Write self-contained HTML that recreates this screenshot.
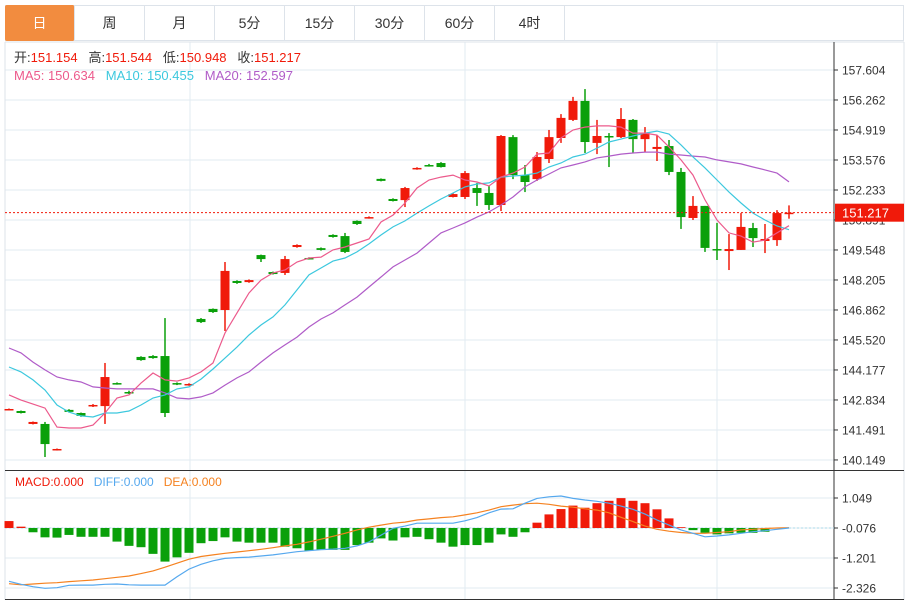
<!DOCTYPE html>
<html><head><meta charset="utf-8"><style>
body{margin:0;background:#fff;font-family:"Liberation Sans","Noto Sans CJK SC",sans-serif;}
#wrap{position:relative;width:908px;height:601px;overflow:hidden;}
.tab{position:absolute;top:5px;height:36px;width:70px;border-right:1px solid #dde3ea;font-size:14px;color:#333;text-align:center;line-height:36px;box-sizing:border-box;}
</style></head><body>
<div id="wrap">
<div style="position:absolute;left:5px;top:5px;width:899px;height:36px;border:1px solid #dde3ea;border-bottom:1px solid #dde3ea;box-sizing:border-box;"></div>
<div class="tab" style="left:5px;background:#f28c3f;color:#fff;border-radius:2px;">日</div>
<div class="tab" style="left:75px;">周</div>
<div class="tab" style="left:145px;">月</div>
<div class="tab" style="left:215px;">5分</div>
<div class="tab" style="left:285px;">15分</div>
<div class="tab" style="left:355px;">30分</div>
<div class="tab" style="left:425px;">60分</div>
<div class="tab" style="left:495px;">4时</div>
<svg id="svg" width="908" height="601" style="position:absolute;left:0;top:0"></svg>
</div>
<script>
const opens=[142.39,142.34,141.76,141.76,140.59,142.39,142.25,142.56,142.56,143.59,143.19,144.76,144.80,144.80,143.59,143.50,146.46,146.91,146.86,148.16,148.11,149.32,148.56,148.52,149.68,149.19,149.63,150.22,150.17,150.85,150.98,152.73,151.83,151.78,153.17,153.35,153.44,151.92,151.92,152.32,152.10,151.56,154.60,152.90,152.72,153.62,154.56,155.37,156.22,154.34,154.65,154.60,155.37,154.51,154.07,154.20,153.04,150.98,151.52,149.59,149.50,149.55,150.53,149.95,149.99,151.154];
const highs=[142.45,142.36,141.87,141.85,140.66,142.42,142.27,142.65,144.49,143.62,143.25,144.79,144.84,146.50,143.62,143.58,146.50,146.93,149.01,148.19,148.23,149.34,148.58,149.28,149.80,149.22,149.66,150.25,150.31,150.87,151.05,152.75,151.86,152.37,153.25,153.40,153.48,152.08,153.08,152.55,152.41,154.69,154.69,153.35,153.93,154.92,155.63,156.40,156.75,155.37,154.78,155.90,155.41,155.05,154.69,154.47,153.22,151.96,151.52,150.76,150.26,151.20,150.76,150.71,151.33,151.544];
const lows=[142.37,142.23,141.74,140.28,140.57,142.27,142.08,142.52,141.76,143.52,143.10,144.59,144.68,142.07,143.50,143.47,146.28,146.73,145.92,148.03,148.08,149.01,148.45,148.43,149.65,149.12,149.52,150.10,149.41,150.67,150.95,152.62,151.72,151.47,153.14,153.28,153.24,151.90,151.83,151.52,151.34,151.29,152.72,152.14,152.64,153.44,154.34,155.32,153.89,153.84,153.26,154.56,153.89,153.93,153.53,152.90,150.49,150.89,149.46,149.10,148.65,149.55,149.68,149.41,149.73,150.948];
const closes=[142.43,142.25,141.85,140.86,140.64,142.30,142.12,142.61,143.86,143.55,143.15,144.62,144.71,142.25,143.55,143.55,146.32,146.77,148.61,148.07,148.20,149.14,148.47,149.14,149.77,149.14,149.55,150.13,149.46,150.71,151.02,152.64,151.74,152.32,153.22,153.31,153.26,152.05,152.99,152.10,151.56,154.65,152.90,152.59,153.71,154.60,155.46,156.22,154.38,154.65,154.60,155.41,154.51,154.78,154.16,153.04,151.02,151.52,149.64,149.55,149.59,150.58,150.08,150.04,151.20,151.217];
const ma5=[143.06,142.83,142.65,142.47,141.62,141.58,141.58,141.71,142.25,142.92,143.06,143.59,144.04,143.73,143.68,143.82,144.09,144.49,145.83,146.73,147.62,148.20,148.52,148.65,149.01,149.19,149.23,149.55,149.68,149.86,150.04,150.80,151.11,151.65,152.32,152.68,152.81,152.90,152.68,152.59,152.41,152.81,152.99,153.26,153.84,153.89,154.56,154.92,155.05,155.10,155.10,155.05,154.78,154.78,154.69,154.16,153.58,152.90,151.79,150.89,150.31,150.17,149.90,149.99,150.31,150.634];
const ma10=[144.31,144.09,143.73,143.28,142.61,142.29,142.12,142.07,142.25,142.25,142.34,142.61,142.92,143.06,143.33,143.42,143.77,144.22,144.71,145.20,145.74,146.19,146.55,147.09,147.76,148.43,148.74,149.05,149.19,149.46,149.82,150.22,150.58,150.85,151.20,151.52,151.83,152.10,152.37,152.50,152.55,152.81,152.86,152.90,152.99,153.26,153.44,153.71,153.84,154.11,154.38,154.51,154.65,154.78,154.87,154.74,154.25,153.71,153.22,152.68,152.14,151.65,151.20,150.89,150.62,150.455];
const ma20=[145.16,144.94,144.53,144.18,143.86,143.73,143.64,143.42,143.37,143.33,143.33,143.33,143.33,143.15,142.92,142.88,142.97,143.15,143.50,143.82,144.09,144.53,144.94,145.30,145.65,146.10,146.46,146.73,147.09,147.44,147.89,148.34,148.79,149.10,149.41,149.86,150.31,150.53,150.76,151.02,151.25,151.56,151.92,152.37,152.68,152.95,153.22,153.35,153.49,153.67,153.75,153.84,153.89,153.93,153.93,153.84,153.80,153.75,153.71,153.58,153.49,153.40,153.26,153.13,152.99,152.597];
const macdHist=[0.26,0.05,-0.16,-0.35,-0.36,-0.26,-0.33,-0.33,-0.33,-0.51,-0.67,-0.72,-0.97,-1.26,-1.10,-0.93,-0.57,-0.49,-0.35,-0.51,-0.55,-0.55,-0.55,-0.70,-0.76,-0.85,-0.82,-0.82,-0.82,-0.64,-0.55,-0.39,-0.47,-0.35,-0.33,-0.42,-0.55,-0.70,-0.64,-0.64,-0.55,-0.24,-0.33,-0.16,0.20,0.51,0.71,0.84,0.76,0.93,1.02,1.12,1.02,0.93,0.70,0.36,0.03,-0.08,-0.18,-0.24,-0.20,-0.18,-0.18,-0.14,-0.01,0];
const diff=[-2.00,-2.11,-2.20,-2.26,-2.24,-2.15,-2.14,-2.14,-2.11,-2.10,-2.13,-2.14,-2.14,-2.14,-1.83,-1.54,-1.36,-1.23,-1.14,-1.11,-1.09,-1.05,-1.01,-0.95,-0.89,-0.85,-0.81,-0.79,-0.76,-0.67,-0.52,-0.27,-0.01,0.07,0.18,0.18,0.18,0.18,0.27,0.39,0.57,0.71,0.72,0.93,1.11,1.17,1.20,1.11,1.05,1.00,0.93,0.82,0.70,0.52,0.30,0.11,-0.07,-0.20,-0.33,-0.30,-0.26,-0.20,-0.14,-0.10,-0.05,0.00];
const dea=[-2.09,-2.13,-2.10,-2.07,-2.05,-2.01,-1.98,-1.95,-1.90,-1.85,-1.80,-1.71,-1.61,-1.47,-1.32,-1.17,-1.07,-1.01,-0.95,-0.90,-0.85,-0.80,-0.74,-0.67,-0.61,-0.52,-0.42,-0.31,-0.20,-0.07,0.03,0.11,0.18,0.22,0.30,0.34,0.39,0.42,0.49,0.57,0.67,0.80,0.86,0.91,0.93,0.89,0.82,0.78,0.72,0.67,0.57,0.40,0.24,0.07,-0.05,-0.12,-0.17,-0.20,-0.20,-0.17,-0.14,-0.07,-0.05,-0.02,0.00,0.01];
const priceTicks=["157.604","156.262","154.919","153.576","152.233","150.891","149.548","148.205","146.862","145.520","144.177","142.834","141.491","140.149"];
const macdTicks=["1.049","-0.076","-1.201","-2.326"];
const lastPrice=151.217;

const svg=document.getElementById('svg');
const NS='http://www.w3.org/2000/svg';
function mk(tag,attrs,parent){const e=document.createElementNS(NS,tag);for(const k in attrs)e.setAttribute(k,attrs[k]);(parent||svg).appendChild(e);return e;}
const xI=i=>9+12*i;
const yP=p=>70+(157.604-p)*22.34;
const yM=v=>528-v*26.67;
const RED='#f01a0a',GREEN='#0aa00a';

// grids
priceTicks.forEach(t=>{const y=yP(parseFloat(t));
 let g=mk('line',{x1:5,x2:834,y1:y,y2:y,stroke:'#e2ebf2','stroke-width':1});
 
 let tk=mk('line',{x1:834,x2:838,y1:y,y2:y,stroke:'#333'});
 let lb=mk('text',{x:842,y:y+4.5,'font-size':12,fill:'#333','font-family':'Liberation Sans, sans-serif'});lb.textContent=t;
 
});
macdTicks.forEach(t=>{const y=yM(parseFloat(t)+0.076);
 let g=mk('line',{x1:5,x2:834,y1:y,y2:y,stroke:'#e2ebf2'});
 
 mk('line',{x1:834,x2:838,y1:y,y2:y,stroke:'#333'});
 let lb=mk('text',{x:842,y:y+4.5,'font-size':12,fill:'#333','font-family':'Liberation Sans, sans-serif'});lb.textContent=t;
 
});
[190,465,717].forEach(x=>{let v=mk('line',{x1:x,x2:x,y1:42,y2:600,stroke:'#e2ebf2'});
 });
// frame
mk('line',{x1:5,x2:5,y1:42,y2:600,stroke:'#dde3ea'});
mk('line',{x1:904,x2:904,y1:42,y2:600,stroke:'#dde3ea'});
mk('line',{x1:5,x2:904,y1:42,y2:42,stroke:'#dde3ea'});
let ax=mk('line',{x1:834,x2:834,y1:42,y2:600,stroke:'#333'});

mk('line',{x1:5,x2:904,y1:470.5,y2:470.5,stroke:'#333'});
mk('line',{x1:5,x2:904,y1:599.5,y2:599.5,stroke:'#333'});

// candles
closes.forEach((c,i)=>{const o=opens[i],up=c>=o,col=up?RED:GREEN,x=xI(i);
 const g=mk('g',{});
 
 mk('line',{x1:x,x2:x,y1:yP(highs[i]),y2:yP(lows[i]),stroke:col,'stroke-width':1.5},g);
 const t=yP(Math.max(o,c)),b=yP(Math.min(o,c));
 mk('rect',{x:x-4.5,y:t,width:9,height:Math.max(b-t,1.5),fill:col},g);
});
function line(arr,fy,col,name){const d=arr.map((v,i)=>(i?'L':'M')+xI(i)+','+fy(v).toFixed(1)).join('');
 const p=mk('path',{d:d,fill:'none',stroke:col,'stroke-width':1.2});
 }
line(ma20,yP,'#b05cc8','ma20-line');
line(ma10,yP,'#3cc8de','ma10-line');
line(ma5,yP,'#ec5a8c','ma5-line');
// last price
const ly=yP(lastPrice);
let dl=mk('line',{x1:5,x2:834,y1:ly,y2:ly,stroke:RED,'stroke-dasharray':'2,2'});

let tg=mk('rect',{x:835,y:ly-9,width:69,height:18,fill:RED});

let tt=mk('text',{x:842,y:ly+5,'font-size':13,fill:'#fff','font-family':'Liberation Sans, sans-serif'});tt.textContent=lastPrice.toFixed(3);

// MACD
let zl=mk('line',{x1:5,x2:834,y1:yM(0),y2:yM(0),stroke:'#a8d8ea','stroke-dasharray':'2,2'});

macdHist.forEach((v,i)=>{const y0=yM(0),y1=yM(v);
 const r=mk('rect',{x:xI(i)-4.5,y:Math.min(y0,y1),width:9,height:Math.abs(y1-y0),fill:v>=0?RED:GREEN});
 });
line(dea,yM,'#f58220','dea-line');
line(diff,yM,'#55a8ee','diff-line');

// legends
function legend(x,y,parts,size,name){const t=mk('text',{x:x,y:y,'font-size':size,'font-family':'Liberation Sans, Noto Sans CJK SC, sans-serif'});
 
 parts.forEach(p=>{const s=mk('tspan',{fill:p[1]},t);s.textContent=p[0];});}
legend(14,62,[['开:','#333'],['151.154   ','#f01a0a'],['高:','#333'],['151.544   ','#f01a0a'],['低:','#333'],['150.948   ','#f01a0a'],['收:','#333'],['151.217','#f01a0a']],13,'ohlc-legend');
legend(14,80,[['MA5: 150.634   ','#ec5a8c'],['MA10: 150.455   ','#3cc8de'],['MA20: 152.597','#b05cc8']],13,'ma-legend');
legend(15,486,[['MACD:0.000   ','#f01a0a'],['DIFF:0.000   ','#55a8ee'],['DEA:0.000','#f58220']],12,'macd-legend');
document.querySelectorAll('tspan').forEach(s=>s.setAttribute('xml:space','preserve'));
document.querySelectorAll('text').forEach(s=>s.setAttribute('style','white-space:pre'));
</script>
</body></html>
